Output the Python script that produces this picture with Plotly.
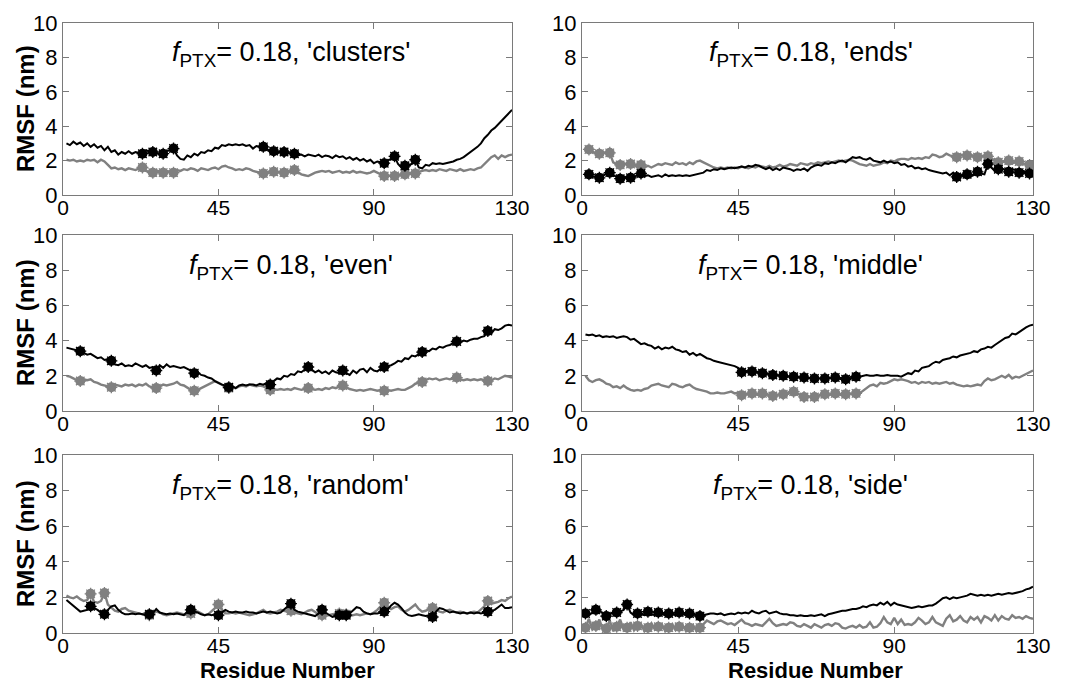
import plotly.graph_objects as go

# Residue numbers along each chain
residues = list(range(1, 131))

# Panel labels (arrangement of PTX units along the chain)
arrangements = ["clusters", "ends", "even", "middle", "random", "side"]

# RMSF (nm) per residue: black = PTX-conjugated chain, grey = reference chain
clusters_black = [
    3.0, 2.9, 3.1, 2.95, 3.05, 2.85, 3.0, 2.8, 2.95, 2.75,
    2.85, 2.6, 2.8, 2.5, 2.6, 2.35, 2.5, 2.4, 2.55, 2.4,
    2.5, 2.45, 2.4, 2.6, 2.55, 2.5, 2.45, 2.35, 2.4, 2.55,
    2.6, 2.7, 2.3, 2.1, 2.05, 2.3, 2.2, 2.4, 2.3, 2.5,
    2.45, 2.6, 2.55, 2.75, 2.7, 2.9, 2.85, 2.95, 2.9, 2.95,
    2.9, 2.95, 2.85, 2.9, 2.7, 2.85, 2.8, 2.8, 2.65, 2.55,
    2.55, 2.4, 2.55, 2.5, 2.45, 2.4, 2.4, 2.3, 2.35, 2.25,
    2.35, 2.3, 2.25, 2.35, 2.2, 2.3, 2.25, 2.15, 2.3, 2.2,
    2.25, 2.1, 2.2, 2.05, 2.15, 2.0, 2.1, 1.95, 2.05, 1.85,
    1.95, 1.9, 1.85, 2.0, 2.1, 2.25, 1.8, 1.6, 1.7, 1.75,
    1.8, 2.05, 1.6, 1.55, 1.75, 1.7, 1.85, 1.8, 1.85, 1.8,
    1.85, 1.9, 1.95, 2.05, 2.1, 2.2, 2.35, 2.5, 2.6, 2.8,
    3.0, 3.3, 3.5, 3.75, 3.9, 4.1, 4.3, 4.5, 4.75, 4.95,
]
clusters_grey = [
    2.05, 2.0, 2.05, 1.95, 2.0, 1.95, 2.05, 2.0, 2.05, 1.9,
    2.05, 1.95, 1.75, 1.55, 1.6, 1.5, 1.55, 1.45, 1.55, 1.5,
    1.45, 1.55, 1.6, 1.4, 1.35, 1.3, 1.45, 1.35, 1.3, 1.4,
    1.35, 1.3, 1.45, 1.4, 1.5, 1.45, 1.55, 1.5, 1.4, 1.55,
    1.5, 1.45, 1.55, 1.6, 1.5, 1.65, 1.7, 1.6, 1.55, 1.45,
    1.5, 1.45, 1.55, 1.5, 1.4, 1.35, 1.3, 1.25, 1.3, 1.4,
    1.35, 1.3, 1.35, 1.3, 1.4, 1.35, 1.45, 1.3, 1.2, 1.15,
    1.1, 1.2, 1.3, 1.35, 1.4, 1.35, 1.4, 1.3, 1.35, 1.4,
    1.3, 1.35, 1.3, 1.4, 1.3, 1.35, 1.3, 1.25, 1.3, 1.4,
    1.3, 1.2, 1.1, 1.15, 1.1, 1.1, 1.2, 1.15, 1.2, 1.3,
    1.25, 1.25, 1.35, 1.4, 1.45, 1.4, 1.45, 1.4, 1.5, 1.45,
    1.4, 1.5, 1.45, 1.4, 1.5, 1.4, 1.45, 1.5, 1.45, 1.55,
    1.6, 1.8, 2.0, 2.2, 2.3, 2.1, 2.3, 2.2, 2.3, 2.35,
]
clusters_sites = [23, 26, 29, 32, 58, 61, 64, 67, 93, 96, 99, 102]

ends_black = [
    1.2, 1.2, 1.05, 1.1, 1.0, 1.1, 1.25, 1.3, 1.15, 1.05,
    0.95, 1.1, 1.0, 1.0, 1.05, 1.15, 1.25, 1.1, 1.15, 1.05,
    1.1, 1.15, 1.05, 1.2, 1.1, 1.15, 1.1, 1.15, 1.1, 1.15,
    1.1, 1.15, 1.2, 1.25, 1.3, 1.45, 1.4, 1.5, 1.45, 1.55,
    1.5, 1.55, 1.6, 1.55, 1.6, 1.65, 1.6, 1.7, 1.65, 1.75,
    1.7, 1.6, 1.5, 1.6, 1.45, 1.55, 1.45, 1.6, 1.55, 1.5,
    1.4, 1.5, 1.45, 1.55, 1.4, 1.6, 1.7, 1.75, 1.7, 1.85,
    1.8, 1.9, 1.85, 1.95, 2.0, 1.9, 2.05, 2.2, 2.15, 2.2,
    2.1, 2.05, 2.15, 2.0, 1.95, 1.9, 2.0, 1.9, 1.95, 1.85,
    1.9, 1.75, 1.8, 1.65, 1.7, 1.55, 1.6, 1.5, 1.55, 1.45,
    1.4, 1.35, 1.3, 1.25, 1.3, 1.15, 1.3, 1.05, 1.15, 1.1,
    1.2, 1.05, 1.2, 1.35, 1.25, 1.2, 1.8, 1.6, 1.4, 1.5,
    1.55, 1.45, 1.35, 1.5, 1.45, 1.3, 1.4, 1.35, 1.25, 1.2,
]
ends_grey = [
    2.7, 2.65, 2.5, 2.45, 2.4, 2.5, 2.45, 2.45, 1.9, 1.8,
    1.75, 1.85, 1.8, 1.8, 1.75, 1.6, 1.75, 1.6, 1.7, 1.6,
    1.7, 1.8, 1.75, 1.85, 1.8, 1.75, 1.9, 1.8, 1.85, 1.75,
    1.9, 1.8, 1.95, 2.0, 1.9, 1.8, 1.7, 1.6, 1.55, 1.6,
    1.55, 1.6, 1.55, 1.6, 1.55, 1.65, 1.6, 1.55, 1.65, 1.6,
    1.7, 1.65, 1.6, 1.7, 1.6, 1.65, 1.75, 1.65, 1.7, 1.8,
    1.75, 1.7, 1.85, 1.8, 1.75, 1.85, 1.8, 1.9, 1.85, 1.9,
    1.95, 1.9, 1.95, 2.0, 1.95, 2.0, 2.05, 2.0, 1.9, 1.8,
    1.75, 1.7, 1.8, 1.7, 1.75, 1.8, 1.9, 1.85, 2.0, 1.95,
    2.05, 2.1, 2.1, 2.05, 2.15, 2.1, 2.15, 2.1, 2.2, 2.15,
    2.35, 2.3, 2.2, 2.25, 2.4, 2.3, 2.25, 2.2, 2.35, 2.3,
    2.3, 2.35, 2.25, 2.2, 2.3, 2.25, 2.25, 2.1, 2.0, 1.9,
    1.95, 1.9, 2.0, 1.85, 1.9, 1.95, 1.8, 1.85, 1.75, 1.8,
]
ends_sites = [2, 5, 8, 11, 14, 17, 108, 111, 114, 117, 120, 123, 126, 129]

even_black = [
    3.6, 3.55, 3.5, 3.45, 3.4, 3.3, 3.2, 3.25, 3.1, 3.0,
    3.05, 2.9, 2.95, 2.85, 2.65, 2.6, 2.7, 2.55, 2.6, 2.55,
    2.7, 2.6, 2.5, 2.6, 2.45, 2.5, 2.3, 2.6, 2.45, 2.65,
    2.5, 2.55, 2.5, 2.45, 2.5, 2.4, 2.3, 2.15, 2.2, 2.05,
    2.0, 1.9, 1.85, 1.7, 1.6, 1.5, 1.45, 1.35, 1.4, 1.3,
    1.45, 1.5, 1.45, 1.5, 1.5, 1.45, 1.55, 1.5, 1.6, 1.5,
    1.7, 1.85, 1.8, 2.0, 1.95, 2.1, 2.05, 2.25, 2.2, 2.35,
    2.5, 2.35, 2.2, 2.3, 2.15, 2.25, 2.1, 2.3, 2.2, 2.15,
    2.3, 2.15, 2.05, 2.3, 2.15, 2.35, 2.4, 2.2, 2.45, 2.3,
    2.25, 2.4, 2.5, 2.55, 2.6, 2.7, 2.85, 2.8, 3.0, 2.95,
    3.15, 3.1, 3.25, 3.35, 3.45, 3.4, 3.55, 3.5, 3.65, 3.6,
    3.7, 3.75, 3.85, 3.95, 3.9, 4.0, 3.95, 4.05, 4.1, 4.1,
    4.2, 4.25, 4.55, 4.4, 4.65, 4.6, 4.7, 4.85, 4.9, 4.85,
]
even_grey = [
    2.0, 1.95, 1.85, 1.75, 1.7, 1.8, 1.75, 1.8, 1.65, 1.6,
    1.5, 1.45, 1.4, 1.35, 1.5, 1.45, 1.4, 1.5, 1.45, 1.5,
    1.4, 1.5, 1.45, 1.55, 1.4, 1.35, 1.3, 1.4, 1.5, 1.45,
    1.5, 1.55, 1.65, 1.5, 1.45, 1.3, 1.2, 1.15, 1.2, 1.3,
    1.4, 1.5, 1.6, 1.7, 1.6, 1.5, 1.4, 1.3, 1.35, 1.3,
    1.4, 1.45, 1.4, 1.5, 1.45, 1.4, 1.45, 1.4, 1.3, 1.2,
    1.25, 1.2, 1.25, 1.2, 1.25, 1.2, 1.3, 1.25, 1.2, 1.25,
    1.3, 1.25, 1.2, 1.25, 1.2, 1.3, 1.25, 1.35, 1.3, 1.4,
    1.45, 1.35, 1.25, 1.2, 1.15, 1.2, 1.15, 1.2, 1.25, 1.2,
    1.15, 1.2, 1.15, 1.2, 1.15, 1.2, 1.25, 1.2, 1.2, 1.3,
    1.4, 1.55, 1.6, 1.65, 1.75, 1.85, 1.8, 1.85, 1.75, 1.8,
    1.85, 1.8, 1.85, 1.9, 1.8, 1.75, 1.8, 1.75, 1.8, 1.75,
    1.8, 1.75, 1.7, 1.75, 1.85, 1.8, 1.9, 2.0, 1.95, 1.9,
]
even_sites = [5, 14, 27, 38, 48, 60, 71, 81, 93, 104, 114, 123]

middle_black = [
    4.35, 4.3, 4.35, 4.25, 4.3, 4.2, 4.25, 4.2, 4.25, 4.15,
    4.2, 4.25, 4.2, 4.05, 4.1, 3.95, 3.8, 3.85, 3.75, 3.7,
    3.55, 3.65, 3.5, 3.6, 3.55, 3.65, 3.5, 3.45, 3.35, 3.4,
    3.2, 3.3, 3.15, 3.25, 3.1, 3.0, 2.95, 2.85, 2.8, 2.75,
    2.7, 2.65, 2.6, 2.55, 2.45, 2.2, 2.3, 2.25, 2.25, 2.2,
    2.2, 2.15, 2.15, 2.1, 2.05, 2.05, 2.0, 2.0, 1.95, 1.95,
    1.95, 1.9, 1.9, 1.9, 1.85, 1.9, 1.85, 1.85, 1.85, 1.85,
    1.9, 1.85, 1.9, 1.85, 1.85, 1.8, 1.85, 1.9, 1.95, 1.95,
    2.0, 2.05, 2.0, 2.0, 2.05, 2.0, 2.0, 2.05, 2.0, 2.0,
    2.0, 1.95, 2.05, 2.15, 2.1, 2.3, 2.25, 2.45, 2.5, 2.55,
    2.7, 2.8, 2.75, 2.9, 2.95, 3.0, 3.1, 3.05, 3.15, 3.2,
    3.25, 3.3, 3.4, 3.35, 3.5, 3.55, 3.65, 3.6, 3.75, 3.9,
    4.0, 4.15, 4.2, 4.4, 4.35, 4.5, 4.65, 4.75, 4.85, 4.9,
]
middle_grey = [
    2.0, 1.75, 1.65, 1.75, 1.8, 1.7, 1.55, 1.5, 1.35, 1.4,
    1.3, 1.45, 1.3, 1.2, 1.15, 1.2, 1.15, 1.25, 1.3, 1.45,
    1.5, 1.55, 1.45, 1.4, 1.35, 1.55, 1.5, 1.4, 1.35, 1.45,
    1.5, 1.35, 1.25, 1.2, 1.15, 1.1, 1.0, 1.0, 1.05, 1.0,
    1.0, 1.05, 1.1, 1.0, 1.05, 0.9, 1.0, 0.95, 1.0, 0.95,
    0.9, 1.0, 0.95, 0.9, 0.85, 0.9, 0.95, 0.95, 1.0, 1.05,
    1.1, 1.0, 0.9, 0.8, 0.85, 0.8, 0.8, 0.85, 0.95, 0.95,
    0.9, 0.95, 1.0, 0.95, 0.9, 0.95, 1.0, 0.95, 1.0, 1.0,
    1.15, 1.3, 1.45, 1.5, 1.4, 1.6, 1.55, 1.6, 1.7, 1.8,
    1.75, 1.8, 1.75, 1.7, 1.6, 1.65, 1.55, 1.65, 1.6, 1.65,
    1.55, 1.6, 1.55, 1.6, 1.65, 1.55, 1.6, 1.5, 1.45, 1.4,
    1.45, 1.4, 1.45, 1.5, 1.45, 1.7, 1.85, 1.75, 1.8, 1.9,
    2.0, 1.9, 2.05, 1.85, 1.95, 1.9, 2.0, 2.1, 2.2, 2.3,
]
middle_sites = [46, 49, 52, 55, 58, 61, 64, 67, 70, 73, 76, 79]

random_black = [
    1.85, 1.7, 1.5, 1.35, 1.2, 1.25, 1.3, 1.5, 1.4, 1.3,
    1.15, 1.05, 1.3, 1.5, 1.55, 1.3, 1.15, 1.05, 1.05, 1.1,
    1.05, 1.1, 1.05, 1.0, 1.05, 1.1, 1.35, 1.15, 1.1, 1.05,
    1.1, 1.05, 1.1, 1.05, 1.0, 1.2, 1.3, 1.2, 1.15, 1.05,
    1.0, 1.05, 1.0, 1.05, 1.0, 1.15, 1.3, 1.2, 1.15, 1.2,
    1.15, 1.15, 1.2, 1.15, 1.15, 1.1, 1.15, 1.2, 1.15, 1.2,
    1.15, 1.1, 1.15, 1.3, 1.5, 1.65, 1.3, 1.2, 1.15, 1.1,
    1.05, 1.0, 0.95, 1.1, 1.3, 1.15, 1.0, 0.9, 0.95, 1.0,
    0.95, 1.0, 1.1, 1.3, 1.45, 1.4, 1.2, 1.1, 1.05, 1.1,
    1.1, 1.15, 1.2, 1.3, 1.55, 1.7, 1.6, 1.4, 1.15, 1.0,
    0.95, 1.0, 1.05, 1.0, 0.95, 1.0, 0.9, 1.2, 1.4, 1.35,
    1.25, 1.15, 1.2, 1.15, 1.1, 1.15, 1.1, 1.15, 1.1, 1.15,
    1.1, 1.15, 1.2, 1.25, 1.3, 1.45, 1.6, 1.4, 1.4, 1.45,
]
random_grey = [
    2.1, 2.0, 1.95, 2.05, 1.9, 1.8, 1.85, 2.2, 1.75, 1.7,
    1.8, 2.25, 1.6, 1.4, 1.25, 1.2, 1.35, 1.4, 1.25, 1.2,
    1.15, 1.1, 1.05, 1.15, 1.0, 1.1, 1.2, 1.15, 1.05, 1.0,
    1.05, 1.1, 1.15, 1.1, 1.05, 1.0, 1.1, 1.15, 1.2, 1.1,
    1.0, 1.05, 1.2, 1.4, 1.6, 1.3, 1.1, 1.1, 1.15, 1.1,
    1.15, 1.1, 1.05, 1.0, 1.05, 1.1, 1.2, 1.3, 1.15, 1.1,
    1.15, 1.2, 1.3, 1.25, 1.2, 1.25, 1.15, 1.1, 1.05, 1.15,
    1.25, 1.3, 1.15, 1.05, 1.0, 0.95, 1.0, 1.05, 1.0, 1.1,
    1.05, 1.05, 0.95, 1.0, 1.05, 1.0, 1.05, 1.1, 1.05, 1.15,
    1.3, 1.5, 1.7, 1.5, 1.35, 1.45, 1.5, 1.3, 1.2, 1.3,
    1.45, 1.6, 1.35, 1.2, 1.25, 1.35, 1.4, 1.3, 1.2, 1.15,
    1.25, 1.3, 1.2, 1.15, 1.2, 1.15, 1.1, 1.15, 1.2, 1.15,
    1.3, 1.5, 1.8, 1.65, 1.7, 1.75, 1.85, 1.8, 1.95, 2.05,
]
random_sites = [8, 12, 25, 37, 45, 66, 75, 80, 82, 93, 107, 123]

side_black = [
    1.1, 1.0, 1.15, 1.3, 1.25, 1.1, 0.95, 1.05, 1.15, 1.15,
    1.2, 1.3, 1.6, 1.15, 1.0, 1.1, 1.05, 1.0, 1.2, 1.05,
    1.0, 1.15, 1.05, 1.0, 1.1, 1.05, 1.0, 1.15, 1.05, 1.0,
    1.1, 1.0, 1.05, 0.95, 1.0, 1.05, 1.1, 1.1, 1.05, 1.1,
    1.0, 1.05, 1.1, 1.05, 1.15, 1.1, 1.15, 1.1, 1.25, 1.15,
    1.1, 1.2, 1.25, 1.1, 1.15, 1.2, 1.1, 1.05, 1.05, 1.0,
    1.0, 0.95, 1.0, 0.95, 0.95, 1.0, 0.95, 1.0, 1.05, 0.95,
    1.05, 1.1, 1.15, 1.2, 1.25, 1.25, 1.3, 1.35, 1.35, 1.4,
    1.5, 1.45, 1.55, 1.6, 1.55, 1.7, 1.6, 1.75, 1.55, 1.7,
    1.6, 1.55, 1.5, 1.45, 1.4, 1.45, 1.5, 1.45, 1.5, 1.55,
    1.55, 1.65, 1.8, 1.95, 2.0, 1.9, 2.0, 1.95, 2.0, 2.05,
    2.1, 2.2, 2.15, 2.1, 2.15, 2.1, 2.15, 2.1, 2.15, 2.2,
    2.15, 2.2, 2.25, 2.2, 2.25, 2.3, 2.35, 2.45, 2.5, 2.6,
]
side_grey = [
    0.3, 0.8, 0.2, 0.4, 0.75, 0.2, 0.25, 0.7, 0.1, 0.35,
    0.75, 0.2, 0.3, 0.6, 0.15, 0.4, 0.5, 0.1, 0.3, 0.55,
    0.2, 0.35, 0.5, 0.1, 0.3, 0.5, 0.15, 0.35, 0.45, 0.1,
    0.3, 0.45, 0.1, 0.3, 0.55, 0.7, 0.6, 0.5, 0.65, 0.7,
    0.6, 0.5, 0.55, 0.45, 0.6, 0.75, 0.55, 0.5, 0.4, 0.5,
    0.45, 0.4, 0.6, 0.8, 0.55, 0.4, 0.45, 0.5, 0.45, 0.6,
    0.55, 0.4, 0.35, 0.5, 0.4, 0.3, 0.5, 0.4, 0.3, 0.45,
    0.5, 0.4, 0.55, 0.5, 0.3, 0.25, 0.35, 0.4, 0.3, 0.45,
    0.3, 0.35, 0.6, 0.3, 0.35, 0.55, 0.9, 0.6, 0.5, 0.85,
    0.5, 0.75, 0.45, 0.5, 0.45, 0.6, 0.85, 0.7, 0.5, 0.6,
    0.9, 0.6, 0.5, 0.4, 0.8, 1.0, 0.65, 0.75, 0.95, 0.7,
    0.6, 0.9, 0.75, 0.9, 0.6, 0.95, 0.85, 0.7, 1.0, 0.7,
    0.95, 0.8, 0.75, 1.0, 0.85, 0.9, 0.8, 0.95, 0.85, 0.8,
]
side_sites = [1, 4, 7, 10, 13, 16, 19, 22, 25, 28, 31, 34]

x_ticks = [0, 45, 90, 130]
y_ticks = [0, 2, 4, 6, 8, 10]
f_ptx = "0.18"

panels = [
    (clusters_black, clusters_grey, clusters_sites),
    (ends_black, ends_grey, ends_sites),
    (even_black, even_grey, even_sites),
    (middle_black, middle_grey, middle_sites),
    (random_black, random_grey, random_sites),
    (side_black, side_grey, side_sites),
]

W, H = 1068, 683
BLACK = "#000000"
GREY = "#808080"
FRAME = "#7a7a7a"
FONT = "Liberation Sans, Arial, sans-serif"

# Plot-area boxes in pixels: (left, right) per column, (top, bottom) per row
cols = [(63, 512), (582, 1033)]
rows = [(23, 195), (235, 411), (455, 633)]
xlabel_centres = [287, 815]

fig = go.Figure()
annotations = []
layout_axes = {}

for i, (name, (blk, gry, sites)) in enumerate(zip(arrangements, panels)):
    r, c = divmod(i, 2)
    n = i + 1
    xa = "x" if n == 1 else f"x{n}"
    ya = "y" if n == 1 else f"y{n}"

    for vals, color, width in ((gry, GREY, 2.4), (blk, BLACK, 2.0)):
        fig.add_trace(go.Scatter(
            x=residues, y=vals, mode="lines",
            line=dict(color=color, width=width),
            xaxis=xa, yaxis=ya, showlegend=False, hoverinfo="skip"))
        sy = [vals[s - 1] for s in sites]
        fig.add_trace(go.Scatter(
            x=sites, y=sy, mode="markers",
            marker=dict(symbol="circle", size=10, color=color, line=dict(width=0)),
            xaxis=xa, yaxis=ya, showlegend=False, hoverinfo="skip"))
        fig.add_trace(go.Scatter(
            x=sites, y=sy, mode="markers",
            marker=dict(symbol="asterisk-open", size=10, color=color,
                        line=dict(color=color, width=1.3)),
            xaxis=xa, yaxis=ya, showlegend=False, hoverinfo="skip"))

    x0, x1 = cols[c]
    y0, y1 = rows[r]
    common = dict(
        showline=True, linecolor=FRAME, linewidth=1, mirror="ticks",
        ticks="inside", ticklen=6, tickcolor=FRAME, tickwidth=1,
        showgrid=False, zeroline=False, automargin=False,
        tickfont=dict(family=FONT, size=22, color="#000000"),
    )
    layout_axes["xaxis" if n == 1 else f"xaxis{n}"] = dict(
        common, domain=[x0 / W, x1 / W], anchor=ya, range=[0, 130],
        tickvals=x_ticks, ticktext=[str(t) for t in x_ticks],
        ticklabelstandoff=-6, tickfont=dict(family=FONT, size=21, color="#000000"))
    layout_axes["yaxis" if n == 1 else f"yaxis{n}"] = dict(
        common, domain=[1 - y1 / H, 1 - y0 / H], anchor=xa, range=[0, 10],
        tickvals=y_ticks, ticktext=[str(t) for t in y_ticks])

    annotations.append(dict(
        x=66, y=8.2, xref=xa, yref=ya, xanchor="center", yanchor="middle",
        showarrow=False,
        text=f"<i>f</i><sub>PTX</sub>= {f_ptx}, '{name}'",
        font=dict(family=FONT, size=27, color="#000000")))

    if c == 0:
        annotations.append(dict(
            x=25 / W, y=1 - (y0 + y1) / 2 / H, xref="paper", yref="paper",
            xanchor="center", yanchor="middle", textangle=-90, showarrow=False,
            text="<b>RMSF (nm)</b>",
            font=dict(family=FONT, size=24, color="#000000")))
    if r == 2:
        annotations.append(dict(
            x=xlabel_centres[c] / W, y=1 - 670 / H, xref="paper", yref="paper",
            xanchor="center", yanchor="middle", showarrow=False,
            text="<b>Residue Number</b>",
            font=dict(family=FONT, size=22, color="#000000")))

fig.update_layout(
    template="none",
    width=W, height=H,
    margin=dict(l=0, r=0, t=0, b=0),
    paper_bgcolor="white", plot_bgcolor="white",
    annotations=annotations,
    **layout_axes,
)

fig.write_html("out.html")
